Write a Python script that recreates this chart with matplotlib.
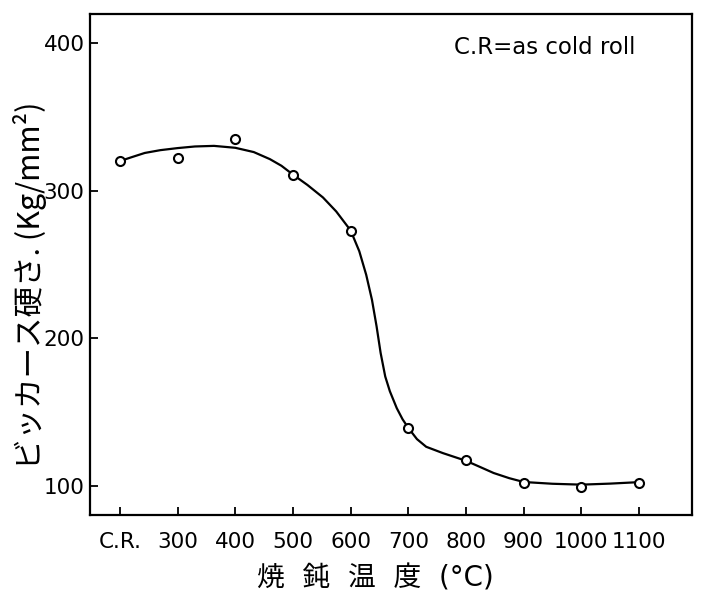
import matplotlib
matplotlib.use('Agg')
import matplotlib.pyplot as plt

plt.rcParams['font.family'] = ['DejaVu Sans', 'Noto Sans CJK JP']

# --- Data ---
# x position 200 stands for the C.R. (as cold rolled) sample
temps = [200, 300, 400, 500, 600, 700, 800, 900, 1000, 1100]
tick_labels = ['C.R.', '300', '400', '500', '600', '700', '800', '900', '1000', '1100']
hardness = [320, 322, 335, 311, 273, 139, 117, 102, 99, 102]

# hand-drawn trend curve
curve_x = [200, 220, 243, 270, 300, 330, 363, 400, 432, 460, 480, 500, 525, 552,
           575, 600, 615, 627, 637, 645, 652, 660, 668, 680, 690, 700, 715, 731,
           760, 800, 825, 848, 875, 900, 950, 1000, 1050, 1100]
curve_y = [320.2, 322.8, 325.7, 327.6, 329.0, 330.1, 330.5, 329.2, 326.3, 321.5,
           317.0, 311.0, 304.0, 295.5, 286.0, 273.1, 259.0, 243.0, 226.0, 208.0,
           190.0, 174.0, 164.0, 152.5, 145.0, 139.1, 131.5, 126.3, 122.0, 116.8,
           112.5, 108.5, 105.0, 102.4, 101.2, 100.6, 101.3, 102.3]

y_ticks = [100, 200, 300, 400]

# --- Figure ---
fig = plt.figure(figsize=(7.04, 5.95), dpi=100)
ax = fig.add_axes([90 / 704, 1 - 515 / 595, 602 / 704, 501 / 595])

ax.plot(curve_x, curve_y, color='black', linewidth=1.6, zorder=2)
ax.plot(temps, hardness, linestyle='none', marker='o', markersize=6.5,
        markerfacecolor='white', markeredgecolor='black', markeredgewidth=1.5, zorder=3)

ax.set_xlim(148, 1192)
ax.set_ylim(80, 420)
ax.set_xticks(temps)
ax.set_xticklabels(tick_labels)
ax.set_yticks(y_ticks)

ax.tick_params(direction='in', length=6, width=1.3, labelsize=15.5, colors='black')
ax.tick_params(axis='x', pad=12)
ax.tick_params(axis='y', pad=4)
for s in ax.spines.values():
    s.set_linewidth(1.6)
    s.set_color('black')

ax.text(545 / 704, 1 - 48 / 595, 'C.R=as cold roll', transform=fig.transFigure,
        ha='center', va='center', fontsize=16.5)

fig.text(30 / 704, 1 - 285 / 595, 'ビッカース硬さ. (Kg/mm²)', rotation=90,
         ha='center', va='center', fontsize=22,
         family=['Noto Sans CJK JP', 'DejaVu Sans'])
fig.text(375 / 704, 1 - 578 / 595, '焼  鈍  温  度  (°C)',
         ha='center', va='center', fontsize=20,
         family=['DejaVu Sans', 'Noto Sans CJK JP'])

fig.savefig('out.png', dpi=100, facecolor='white')
